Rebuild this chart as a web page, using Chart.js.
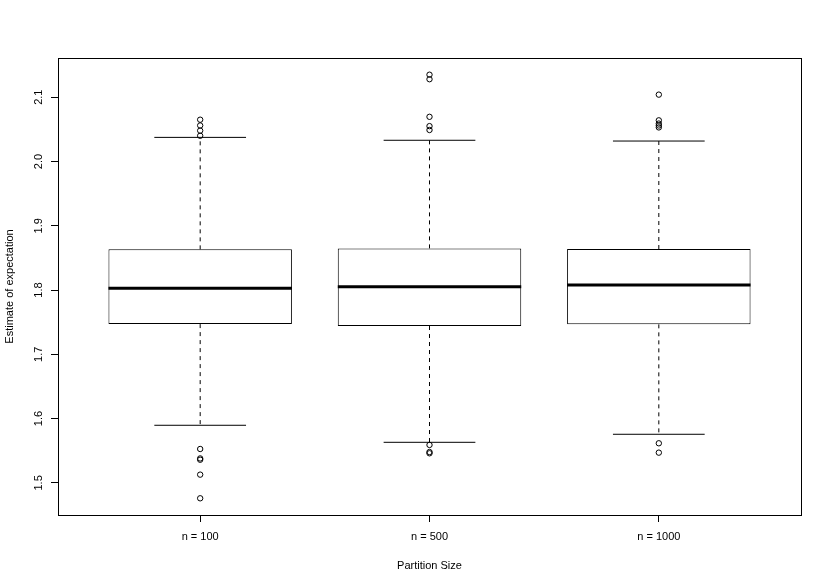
<!DOCTYPE html>
<html>
<head>
<meta charset="utf-8">
<script src="https://cdn.jsdelivr.net/npm/chart.js@4/dist/chart.umd.min.js"></script>
<style>
  html, body { margin: 0; padding: 0; background: #fff; }
  #wrap { width: 830px; height: 588px; }
</style>
</head>
<body>
<div id="wrap"><canvas id="chart" width="830" height="588"></canvas></div>
<script>
(function () {
  'use strict';

  // ── Données ──
  var categories = ['n = 100', 'n = 500', 'n = 1000'];
  var lowerWhisker = [1.5896, 1.5631, 1.5756];
  var q1 = [1.7470, 1.7440, 1.7466];
  var median = [1.8026, 1.8051, 1.8078];
  var q3 = [1.8633, 1.8648, 1.8638];
  var upperWhisker = [2.0375, 2.0330, 2.0318];
  var outliers = [
    [2.0650, 2.0560, 2.0480, 2.0400, 1.5527, 1.5380, 1.5360, 1.5128, 1.4760],
    [2.1350, 2.1280, 2.0695, 2.0550, 2.0490, 1.5590, 1.5480, 1.5460],
    [2.1040, 2.0640, 2.0590, 2.0560, 2.0530, 1.5616, 1.5470]
  ];
  var yTicks = [1.5, 1.6, 1.7, 1.8, 1.9, 2.0, 2.1];
  var xTicks = [1, 2, 3];

  var boxWidth = 0.8, capWidth = 0.4;
  var font = { family: "'Liberation Sans', Arial, sans-serif", size: 11 };

  function segments(fn) {
    var pts = [];
    categories.forEach(function (c, i) {
      fn(i + 1, i).forEach(function (p) { pts.push(p); });
      pts.push({ x: i + 1, y: null });
    });
    return pts;
  }

  var boxes = categories.map(function (c, i) { return { x: i + 1, y: [q1[i], q3[i]] }; });
  var medians = segments(function (x, i) {
    return [{ x: x - boxWidth / 2, y: median[i] }, { x: x + boxWidth / 2, y: median[i] }];
  });
  var whiskers = segments(function (x, i) {
    return [{ x: x, y: q3[i] }, { x: x, y: upperWhisker[i] }, { x: x, y: null }, { x: x, y: q1[i] }, { x: x, y: lowerWhisker[i] }];
  });
  var caps = segments(function (x, i) {
    return [{ x: x - capWidth / 2, y: upperWhisker[i] }, { x: x + capWidth / 2, y: upperWhisker[i] }, { x: x, y: null },
            { x: x - capWidth / 2, y: lowerWhisker[i] }, { x: x + capWidth / 2, y: lowerWhisker[i] }];
  });
  var outPts = [];
  outliers.forEach(function (arr, i) { arr.forEach(function (v) { outPts.push({ x: i + 1, y: v }); }); });

  var lineBase = { type: 'line', pointRadius: 0, spanGaps: false, tension: 0, fill: false, borderColor: '#000' };

  // cadre autour de la zone de tracé (bty = "o")
  var frame = {
    id: 'frame',
    afterDatasetsDraw: function (chart) {
      var a = chart.chartArea, ctx = chart.ctx;
      ctx.save();
      ctx.strokeStyle = '#000';
      ctx.lineWidth = 1;
      ctx.strokeRect(Math.round(a.left) + 0.5, Math.round(a.top) + 0.5, Math.round(a.right - a.left), Math.round(a.bottom - a.top));
      ctx.restore();
    }
  };

  new Chart(document.getElementById('chart'), {
    type: 'bar',
    data: {
      datasets: [
        Object.assign({}, lineBase, { label: 'median', data: medians, borderWidth: 3, order: 0 }),
        { type: 'scatter', label: 'outliers', data: outPts, pointStyle: 'circle', pointRadius: 2.7,
          backgroundColor: 'rgba(0,0,0,0)', borderColor: '#000', borderWidth: 1, order: 1 },
        Object.assign({}, lineBase, { label: 'caps', data: caps, borderWidth: 1, order: 2 }),
        Object.assign({}, lineBase, { label: 'whiskers', data: whiskers, borderWidth: 1, borderDash: [4, 4], order: 3 }),
        { type: 'bar', label: 'box', data: boxes, backgroundColor: '#fff', borderColor: '#000', borderWidth: 1,
          borderSkipped: false, barPercentage: boxWidth, categoryPercentage: 1, order: 4 }
      ]
    },
    options: {
      responsive: false,
      animation: false,
      layout: { padding: { top: 58, right: 29, left: 0, bottom: 0 } },
      plugins: { legend: { display: false }, tooltip: { enabled: false } },
      scales: {
        x: {
          type: 'linear', min: 0.38, max: 3.62, offset: false,
          afterBuildTicks: function (s) { s.ticks = xTicks.map(function (v) { return { value: v }; }); },
          afterFit: function (s) { s.height = 73; },
          border: { display: false },
          grid: { offset: false, drawOnChartArea: false, drawTicks: true, tickLength: 7, tickColor: '#000' },
          ticks: { color: '#000', font: font, padding: 8, maxRotation: 0, autoSkip: false,
            callback: function (v) { return categories[v - 1]; } },
          title: { display: true, text: 'Partition Size', color: '#000', font: font, padding: { top: 0, bottom: 15.4 } }
        },
        y: {
          type: 'linear', min: 1.45, max: 2.161,
          afterBuildTicks: function (s) { s.ticks = yTicks.map(function (v) { return { value: v }; }); },
          afterFit: function (s) { s.width = 58; },
          border: { display: false },
          grid: { drawOnChartArea: false, drawTicks: true, tickLength: 7, tickColor: '#000' },
          ticks: { color: '#000', font: font, padding: 4.5, minRotation: 90, maxRotation: 90, crossAlign: 'center',
            callback: function (v) { return v.toFixed(1); } },
          title: { display: true, text: 'Estimate of expectation', color: '#000', font: font, padding: { top: 3.5, bottom: 0 } }
        }
      }
    },
    plugins: [frame]
  });
})();
</script>
</body>
</html>
